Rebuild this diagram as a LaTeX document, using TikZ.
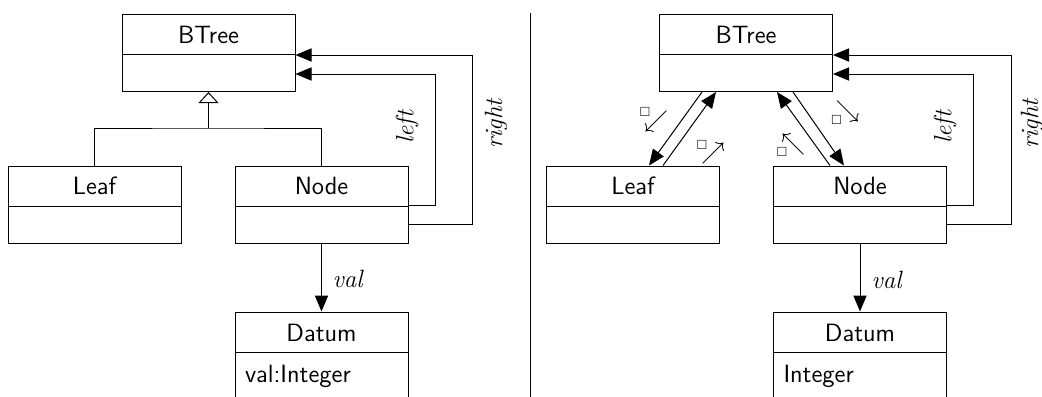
\documentclass[tikz,border=0pt]{standalone}
\usepackage{amssymb}
\usetikzlibrary{arrows.meta,calc}
\newcommand\sqarr[2]{\smash{\raisebox{#1}{\fontsize{6}{7}\selectfont$\square$}\kern-3.1pt$#2$}}
\begin{document}
\begin{tikzpicture}[x=0.5pt,y=-0.5pt, line width=0.5pt,
  every node/.style={font=\fontsize{12.5}{15}\selectfont},
  classbox/.style={draw, rectangle, minimum width=86.5pt, minimum height=38.5pt, inner sep=0pt},
  datumbox/.style={draw, rectangle, minimum width=86.5pt, minimum height=50pt, inner sep=0pt},
  ctitle/.style={font=\fontsize{12.5}{15}\selectfont\sffamily, anchor=base, inner sep=0pt},
  cattr/.style={font=\fontsize{12.5}{15}\selectfont\sffamily, anchor=base west, inner sep=0pt},
  lbl/.style={font=\fontsize{12.5}{15}\selectfont\itshape, inner sep=0pt},
  symlbl/.style={font=\fontsize{11.5}{13}\selectfont, inner sep=0pt},
  assoc/.style={-{Triangle[length=8pt,width=6.6pt]}},
  inherit/.style={-{Triangle[open,length=5.5pt,width=10pt]}},
]
\useasboundingbox (0,0) rectangle (1042,396);
\clip (0,0) rectangle (1042,396);

% ---------------- left diagram ----------------
\node[classbox] (bt1) at (208.5,53) {};
\node[classbox] (leaf1) at (94.5,204.5) {};
\node[classbox] (node1) at (321.5,204.5) {};
\node[datumbox] (dat1) at (321.5,362) {};
\foreach \n in {bt1,leaf1,node1,dat1}
  \draw ($(\n.north west)+(0,40.5)$) -- ($(\n.north east)+(0,40.5)$);
\node[ctitle] (bt1t) at ($(bt1.north)+(0,29.7)$) {BTree};
\node[ctitle] (leaf1t) at ($(leaf1.north)+(0,29.3)$) {Leaf};
\node[ctitle] (node1t) at ($(node1.north)+(0,29.3)$) {Node};
\node[ctitle] (dat1t) at ($(dat1.north)+(0,29.7)$) {Datum};
\node[cattr] (dat1a) at ($(dat1.north west)+(10,70.7)$) {val:Integer};

\coordinate (j1) at (208.5,128);
\draw (leaf1.north) |- (j1) -| (node1.north);
\draw[inherit] (j1) -- (bt1.south);

\draw[assoc] ($(node1.north east)+(0,40)$) -- ++(27,0) |- ($(bt1.north east)+(0,60)$);
\draw[assoc] ($(node1.north east)+(0,59)$) -- ++(64,0) |- ($(bt1.north east)+(0,41)$);
\node[lbl, rotate=90] (left1) at (407,127) {left};
\node[lbl, rotate=90] (right1) at (496,124) {right};

\draw[assoc] (node1.south) -- (dat1.north);
\node[lbl, anchor=base west] (val1) at (332,287) {val};

% separator
\draw (530,13) -- (530,400);

% ---------------- right diagram ----------------
\node[classbox] (bt2) at (746,53) {};
\node[classbox] (leaf2) at (633,204.5) {};
\node[classbox] (node2) at (860,204.5) {};
\node[datumbox] (dat2) at (860,362) {};
\foreach \n in {bt2,leaf2,node2,dat2}
  \draw ($(\n.north west)+(0,40.5)$) -- ($(\n.north east)+(0,40.5)$);
\node[ctitle] (bt2t) at ($(bt2.north)+(0,29.7)$) {BTree};
\node[ctitle] (leaf2t) at ($(leaf2.north)+(0,29.3)$) {Leaf};
\node[ctitle] (node2t) at ($(node2.north)+(0,29.3)$) {Node};
\node[ctitle] (dat2t) at ($(dat2.north)+(0,29.7)$) {Datum};
\node[cattr] (dat2a) at ($(dat2.north west)+(10,70.7)$) {Integer};

\draw[assoc] ($(bt2.south)+(-44,0)$) -- ($(leaf2.north)+(16,0)$);
\draw[assoc] ($(leaf2.north)+(30,0)$) -- ($(bt2.south)+(-30,0)$);
\draw[assoc] ($(node2.north)+(-30,0)$) -- ($(bt2.south)+(31,0)$);
\draw[assoc] ($(bt2.south)+(47,0)$) -- ($(node2.north)+(-16,0)$);
\node[symlbl] (s1) at (653.9,127.2) {\sqarr{5.5pt}{\swarrow}};
\node[symlbl] (s2) at (710.9,159.2) {\sqarr{5.0pt}{\nearrow}};
\node[symlbl] (s3) at (790.9,150.2) {\sqarr{-3.2pt}{\nwarrow}};
\node[symlbl] (s4) at (845.4,117.7) {\sqarr{-3.5pt}{\searrow}};

\draw[assoc] ($(node2.north east)+(0,40)$) -- ++(26,0) |- ($(bt2.north east)+(0,60)$);
\draw[assoc] ($(node2.north east)+(0,59)$) -- ++(64,0) |- ($(bt2.north east)+(0,41)$);
\node[lbl, rotate=90] (left2) at (945,127) {left};
\node[lbl, rotate=90] (right2) at (1032,124) {right};

\draw[assoc] (node2.south) -- (dat2.north);
\node[lbl, anchor=base west] (val2) at (871,288) {val};
\end{tikzpicture}
\end{document}
